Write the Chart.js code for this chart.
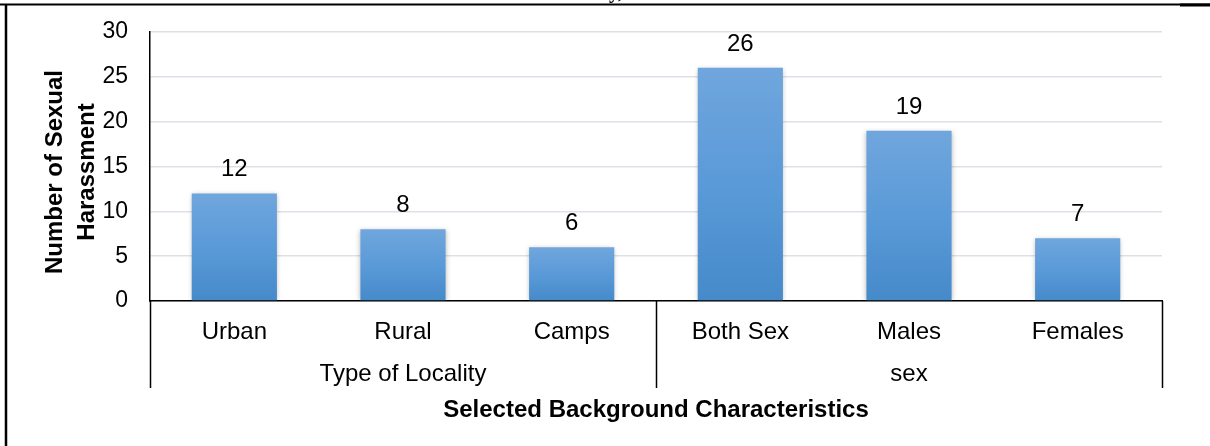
<!DOCTYPE html>
<html>
<head>
<meta charset="utf-8">
<script src="https://cdn.jsdelivr.net/npm/chart.js@4"></script>
<style>
  html, body { margin: 0; padding: 0; background: #fff; }
  #wrap { width: 1210px; height: 446px; position: relative; }
</style>
</head>
<body>
<div id="wrap"><canvas id="chart"></canvas></div>
<script>
const categories = ["Urban", "Rural", "Camps", "Both Sex", "Males", "Females"];
const values = [12, 8, 6, 26, 19, 7];
const groupNames = ["Type of Locality", "sex"];
const groupSizes = [3, 3];
const yTitle = ["Number of Sexual", "Harassment"];
const xTitle = "Selected Background Characteristics";

const FONT = "'Liberation Sans', Arial, sans-serif";

// gradient per bar, light on top, darker at the base
function barGradient(context) {
  const chart = context.chart;
  if (!chart.chartArea || context.raw === undefined) return "#5b9bd5";
  const y = chart.scales.y;
  const top = y.getPixelForValue(context.raw);
  const base = y.getPixelForValue(0);
  const g = chart.ctx.createLinearGradient(0, top, 0, base);
  g.addColorStop(0, "#70a6dd");
  g.addColorStop(0.5, "#5a9ad8");
  g.addColorStop(1, "#468aca");
  return g;
}

const decorations = {
  id: "decorations",
  beforeDatasetsDraw(chart) {
    const ctx = chart.ctx;
    ctx.save();
    ctx.shadowColor = "rgba(0,0,0,0.28)";
    ctx.shadowBlur = 5;
    ctx.shadowOffsetY = 1;
  },
  afterDatasetsDraw(chart) {
    const ctx = chart.ctx;
    ctx.restore();
    // value labels
    ctx.save();
    ctx.font = "24px " + FONT;
    ctx.fillStyle = "#000";
    ctx.textAlign = "center";
    ctx.textBaseline = "alphabetic";
    chart.getDatasetMeta(0).data.forEach((bar, i) => {
      ctx.fillText(String(values[i]), bar.x, bar.y - 17);
    });
    ctx.restore();
  },
  afterDraw(chart) {
    const ctx = chart.ctx;
    const area = chart.chartArea;
    const x = chart.scales.x;
    const lineBottom = 388;
    ctx.save();
    ctx.strokeStyle = "#000";
    ctx.lineWidth = 1.5;

    // group separators and labels
    let start = 0;
    const bounds = [area.left];
    groupSizes.forEach((n, gi) => {
      const end = start + n - 1;
      const right = end < categories.length - 1
        ? (x.getPixelForValue(end) + x.getPixelForValue(end + 1)) / 2
        : area.right;
      bounds.push(right);
      const cx = (x.getPixelForValue(start) + x.getPixelForValue(end)) / 2;
      ctx.font = "24px " + FONT;
      ctx.fillStyle = "#000";
      ctx.textAlign = "center";
      ctx.textBaseline = "middle";
      ctx.fillText(groupNames[gi], cx, 374);
      start += n;
    });
    bounds.forEach(bx => {
      const px = Math.round(bx) + 0.5;
      ctx.beginPath();
      ctx.moveTo(px, area.bottom);
      ctx.lineTo(px, lineBottom);
      ctx.stroke();
    });

    // x title
    ctx.font = "bold 24px " + FONT;
    ctx.textAlign = "center";
    ctx.textBaseline = "middle";
    ctx.fillText(xTitle, (area.left + area.right) / 2, 410);

    // y title, two rotated lines
    ctx.save();
    ctx.translate(71, 172);
    ctx.rotate(-Math.PI / 2);
    ctx.font = "bold 24px " + FONT;
    ctx.fillText(yTitle[0], 0, -16);
    ctx.fillText(yTitle[1], 0, 16);
    ctx.restore();

    // outer frame pieces
    ctx.lineWidth = 2.5;
    ctx.beginPath();
    ctx.moveTo(6, 4);
    ctx.lineTo(6, 446);
    ctx.stroke();
    ctx.lineWidth = 2;
    ctx.beginPath();
    ctx.moveTo(0, 4.5);
    ctx.lineTo(1210, 4.5);
    ctx.stroke();
    ctx.lineWidth = 3;
    ctx.beginPath();
    ctx.moveTo(1180, 5);
    ctx.lineTo(1210, 5);
    ctx.stroke();

    // cut-off caption fragment at the very top
    ctx.font = "bold 20px 'Liberation Serif', serif";
    ctx.textAlign = "left";
    ctx.textBaseline = "alphabetic";
    ctx.fillText("y,", 609, -2);
    ctx.restore();
  }
};

new Chart(document.getElementById("chart"), {
  type: "bar",
  data: {
    labels: categories,
    datasets: [{
      data: values,
      backgroundColor: barGradient,
      borderWidth: 0,
      categoryPercentage: 1,
      barPercentage: 0.505
    }]
  },
  options: {
    responsive: true,
    maintainAspectRatio: false,
    animation: false,
    events: [],
    layout: { padding: { top: 32, right: 48, bottom: 0, left: 0 } },
    plugins: {
      legend: { display: false },
      tooltip: { enabled: false },
      title: { display: false }
    },
    scales: {
      x: {
        offset: true,
        grid: { display: false, drawTicks: false },
        border: { display: true, color: "#000", width: 1.5 },
        ticks: {
          color: "#000",
          font: { family: FONT, size: 24 },
          padding: 17,
          maxRotation: 0,
          autoSkip: false
        },
        afterFit(scale) {
          scale.height = 145;
          scale.paddingLeft = 0;
          scale.paddingRight = 0;
        }
      },
      y: {
        min: 0,
        max: 30,
        grid: { color: "#dde1e7", lineWidth: 1.5, drawTicks: false },
        border: { display: true, color: "#000", width: 1.5 },
        ticks: {
          stepSize: 5,
          color: "#000",
          font: { family: FONT, size: 23 },
          padding: 22
        },
        afterFit(scale) {
          scale.width = 150;
          scale.paddingTop = 0;
          scale.paddingBottom = 0;
        }
      }
    }
  },
  plugins: [decorations]
});
</script>
</body>
</html>
